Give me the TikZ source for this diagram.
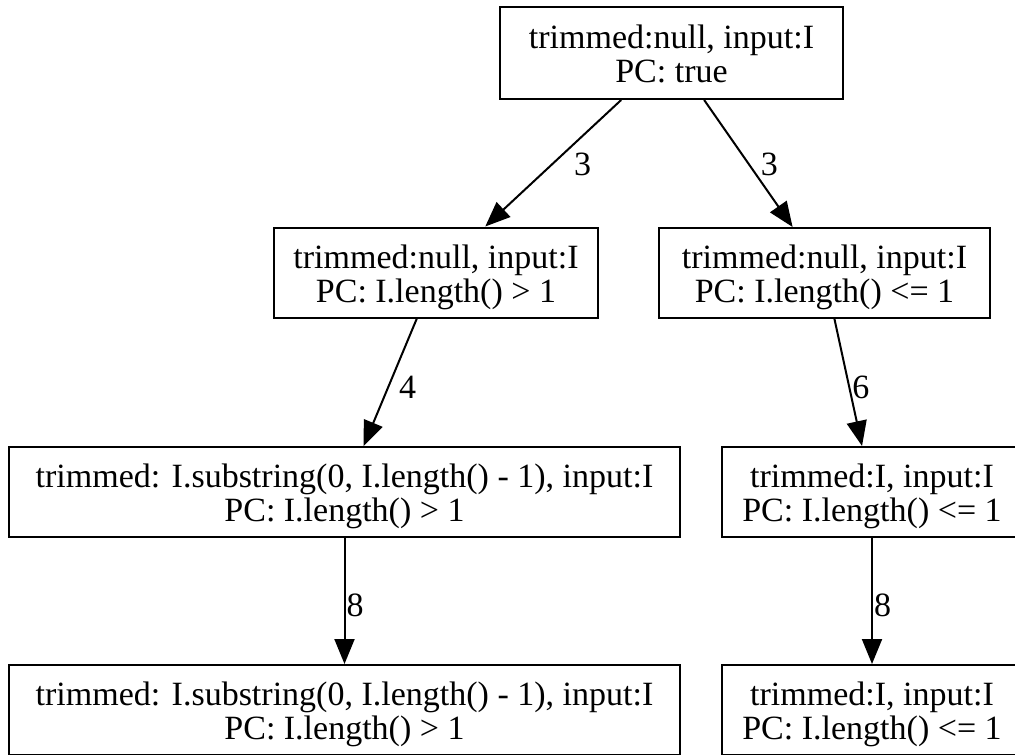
\documentclass[tikz,border=0pt]{standalone}
\usepackage{fontspec}
\setmainfont{Liberation Serif}
\usepackage{tikz}
\usetikzlibrary{%
	arrows.meta%
}
\newcommand{\twolines}[2]{\rule{0pt}{34pt}#1\\#2\rule[-9pt]{0pt}{9pt}}

\begin{document}
\begin{tikzpicture}[x=1pt,y=-1pt,
			state/.style={draw,line width=2pt,align=center,inner sep=0pt,
				minimum height=90pt,font=\fontsize{34}{34}\selectfont},
			edge/.style={line width=2pt,-{Triangle[length=25pt,width=20pt]}},
			elabel/.style={anchor=west,inner sep=0pt,font=\fontsize{34}{34}\selectfont}
		]
			\useasboundingbox (0,0) rectangle (1015,755);
			% States
			\node[state,minimum width=343pt,minimum height=92pt] (root) at (671.5,53)
				{\twolines{trimmed:null, input:I}{PC: true}};
			\node[state,minimum width=324pt] (left1) at (436,272.5)
				{\twolines{trimmed:null, input:I}{PC: I.length() > 1}};
			\node[state,minimum width=331pt] (right1) at (824.5,273)
				{\twolines{trimmed:null, input:I}{PC: I.length() <= 1}};
			\node[state,minimum width=671pt] (left2) at (344.5,492)
				{\twolines{trimmed: I.substring(0, I.length() - 1), input:I}{PC: I.length() > 1}};
			\node[state,minimum width=300pt] (right2) at (872,492)
				{\twolines{trimmed:I, input:I}{PC: I.length() <= 1}};
			\node[state,minimum width=671pt] (left3) at (344.5,710)
				{\twolines{trimmed: I.substring(0, I.length() - 1), input:I}{PC: I.length() > 1}};
			\node[state,minimum width=300pt] (right3) at (872,710)
				{\twolines{trimmed:I, input:I}{PC: I.length() <= 1}};
			
			% Transitions with line numbers
			\draw[edge] (root) -- node[elabel,xshift=20pt,yshift=-1pt] (l3a) {3} (left1);
			\draw[edge] (root) -- node[elabel,xshift=11.5pt,yshift=-1pt] (l3b) {3} (right1);
			\draw[edge] (left1) -- node[elabel,xshift=8pt,yshift=-5pt] (l4) {4} (left2);
			\draw[edge] (right1) -- node[elabel,xshift=3pt,yshift=-4.5pt] (l6) {6} (right2);
			\draw[edge] (left2) -- node[elabel,xshift=1pt,yshift=-4pt] (l8a) {8} (left3);
			\draw[edge] (right2) -- node[elabel,xshift=1pt,yshift=-4pt] (l8b) {8} (right3);
		\end{tikzpicture}
\end{document}
